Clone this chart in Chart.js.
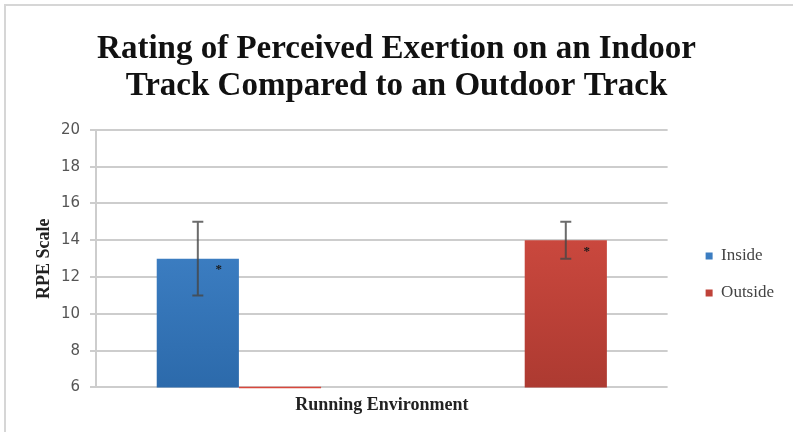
<!DOCTYPE html>
<html><head><meta charset="utf-8">
<script src="https://cdn.jsdelivr.net/npm/chart.js@4/dist/chart.umd.min.js"></script>
<style>
html,body{margin:0;padding:0;background:#fff;}
#frame{position:absolute;left:4px;top:4px;width:820px;height:460px;border:2px solid #d6d6d6;box-sizing:border-box;}
#wrap{position:absolute;left:0;top:0;width:793px;height:432px;}
</style></head>
<body>
<div id="frame"></div>
<div id="wrap"><canvas id="c" width="793" height="432"></canvas></div>
<script>
const categories = ['', ''];
const insideValues = [13, null];
const outsideValues = [6, 14];
const insideErr = [2, null];
const outsideErr = [null, 1];
const yTicks = [6, 8, 10, 12, 14, 16, 18, 20];

function grad(ctx, top, bottom) {
  const ch = ctx.chart; const a = ch.chartArea;
  if (!a) return top;
  const g = ch.ctx.createLinearGradient(0, a.top, 0, a.bottom);
  g.addColorStop(0, top); g.addColorStop(1, bottom);
  return g;
}

const legendShift = {
  id: 'legendShift',
  afterLayout(chart) {
    const l = chart.legend;
    if (l) { l.left += 18; l.right += 18; }
  }
};

const extras = {
  id: 'extras',
  afterDatasetsDraw(chart) {
    const ctx = chart.ctx; const y = chart.scales.y;
    const errs = [insideErr, outsideErr];
    const vals = [insideValues, outsideValues];
    ctx.save();
    chart.data.datasets.forEach((ds, di) => {
      const meta = chart.getDatasetMeta(di);
      meta.data.forEach((el, i) => {
        const v = vals[di][i];
        if (v == null) return;
        if (v === y.min) {
          ctx.strokeStyle = '#d9473c'; ctx.lineWidth = 1.5;
          ctx.beginPath(); ctx.moveTo(el.x - el.width/2, el.y); ctx.lineTo(el.x + el.width/2, el.y); ctx.stroke();
        }
        const e = errs[di][i];
        if (e == null) return;
        const yt = y.getPixelForValue(v + e), yb = y.getPixelForValue(v - e);
        ctx.strokeStyle = 'rgba(70,70,70,0.8)'; ctx.lineWidth = 2;
        ctx.beginPath();
        ctx.moveTo(el.x, yt); ctx.lineTo(el.x, yb);
        ctx.moveTo(el.x - 5.5, yt); ctx.lineTo(el.x + 5.5, yt);
        ctx.moveTo(el.x - 5.5, yb); ctx.lineTo(el.x + 5.5, yb);
        ctx.stroke();
        ctx.fillStyle = '#1a1a1a';
        ctx.font = 'bold 13px "Liberation Serif"';
        ctx.textAlign = 'center'; ctx.textBaseline = 'middle';
        ctx.fillText('*', el.x + 21, y.getPixelForValue(v - 0.6));
      });
    });
    ctx.restore();
  }
};

new Chart(document.getElementById('c'), {
  type: 'bar',
  data: {
    labels: categories,
    datasets: [
      { label: 'Inside', data: insideValues,
        backgroundColor: c => grad(c, '#4a8fd6', '#2c6aab'), borderWidth: 0,
        categoryPercentage: 0.575, barPercentage: 1.0 },
      { label: 'Outside', data: outsideValues,
        backgroundColor: c => grad(c, '#df5247', '#ad3a31'), borderWidth: 0,
        categoryPercentage: 0.575, barPercentage: 1.0 }
    ]
  },
  options: {
    responsive: false, animation: false,
    layout: { padding: { left: 27, right: 27, top: 22, bottom: 12 } },
    plugins: {
      title: { display: true,
        text: ['Rating of Perceived Exertion on an Indoor', 'Track Compared to an Outdoor Track'],
        font: { family: '"Liberation Serif"', size: 33, weight: 'bold', lineHeight: 1.15 },
        color: '#111', padding: { top: 8, bottom: 24 } },
      legend: { position: 'right',
        title: { display: true, text: '', font: { size: 10, lineHeight: 1 }, padding: { top: 0, bottom: 97 } },
        labels: { boxWidth: 7, boxHeight: 7, padding: 20, color: '#444',
          font: { family: '"Liberation Serif"', size: 17 } } },
      tooltip: { enabled: false }
    },
    scales: {
      x: { grid: { display: false, drawTicks: false }, border: { display: false }, ticks: { display: false, padding: 0 },
        title: { display: true, text: 'Running Environment', color: '#222',
          font: { family: '"Liberation Serif"', size: 18, weight: 'bold', lineHeight: 1.2 }, padding: { top: 7, bottom: 4 } } },
      y: { min: 6, max: 20,
        afterBuildTicks: s => { s.ticks = yTicks.map(v => ({ value: v })); },
        afterFit: s => { s.width = 69; },
        grid: { color: '#cdcdcd', lineWidth: 2, tickLength: 6 },
        border: { color: '#cdcdcd', width: 2 },
        ticks: { color: '#555', font: { family: '"DejaVu Sans"', size: 15 }, padding: 10 },
        title: { display: true, text: 'RPE Scale', color: '#222',
          font: { family: '"Liberation Serif"', size: 18, weight: 'bold', lineHeight: 1.2 }, padding: { top: 7, bottom: 0 } } }
    }
  },
  plugins: [extras, legendShift]
});
</script>
</body></html>
